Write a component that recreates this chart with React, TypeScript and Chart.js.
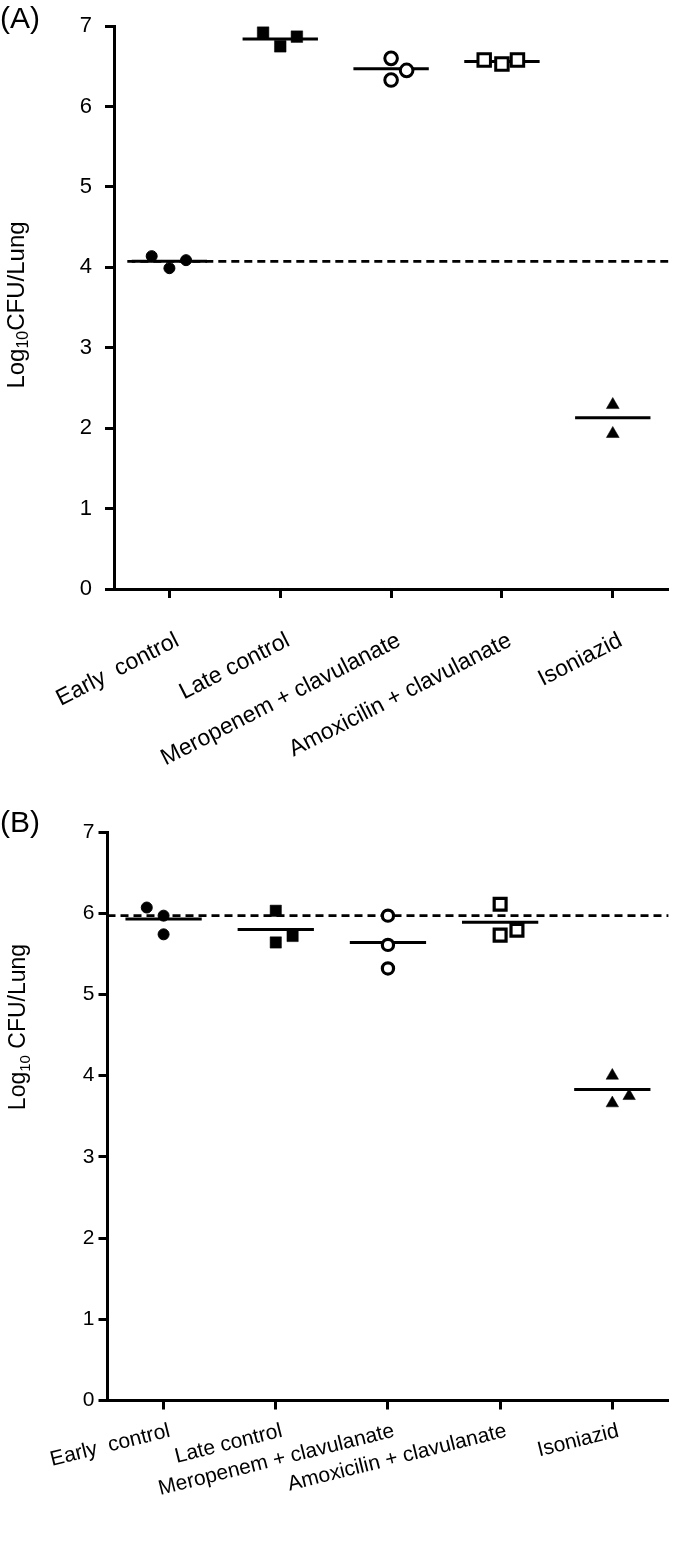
import React, { useEffect, useRef } from 'react';
import { Chart, registerables } from 'chart.js';

Chart.register(...registerables);

// ---------- data ----------
const categories = ['Early  control', 'Late control', 'Meropenem + clavulanate', 'Amoxicilin + clavulanate', 'Isoniazid'];
const yTickValues = [0, 1, 2, 3, 4, 5, 6, 7];

// Panel A (values, and small horizontal jitter offsets in category units)
const aEarly = [4.14, 3.99, 4.09];
const aEarlyJit = [-0.16, 0, 0.15];
const aLate = [6.92, 6.75, 6.87];
const aLateJit = [-0.155, 0, 0.15];
const aMero = [6.6, 6.33, 6.45];
const aMeroJit = [0, 0, 0.14];
const aAmox = [6.58, 6.53, 6.58];
const aAmoxJit = [-0.16, 0, 0.14];
const aIso = [2.29, 1.93];
const aIsoJit = [0, 0];
const aMeans = [4.075, 6.84, 6.47, 6.56, 2.13];
const aReference = 4.075;
const aReferenceFrom = -0.38;

// Panel B
const bEarly = [6.07, 5.97, 5.74];
const bEarlyJit = [-0.15, 0, 0];
const bLate = [6.03, 5.64, 5.72];
const bLateJit = [0, 0, 0.15];
const bMero = [5.97, 5.61, 5.32];
const bMeroJit = [0, 0, 0];
const bAmox = [6.11, 5.73, 5.79];
const bAmoxJit = [0, 0, 0.15];
const bIso = [4.0, 3.75, 3.66];
const bIsoJit = [0, 0.15, 0];
const bMeans = [5.93, 5.8, 5.64, 5.89, 3.83];
const bReference = 5.97;
const bReferenceFrom = -0.5;

// ---------- styling ----------
const FONT = "'Liberation Sans', Arial, Helvetica, sans-serif";
const W = 680;
const MEAN_HALF = 0.34;

type MarkerStyle = { pointStyle: string; radius: number; bg: string; bw: number };
const markerStylesA: MarkerStyle[] = [
  { pointStyle: 'circle', radius: 5.5, bg: '#000', bw: 1 },
  { pointStyle: 'rect', radius: 8.2, bg: '#000', bw: 0.5 },
  { pointStyle: 'circle', radius: 6.3, bg: '#fff', bw: 3 },
  { pointStyle: 'rect', radius: 8.8, bg: '#fff', bw: 3 },
  { pointStyle: 'triangle', radius: 7.4, bg: '#000', bw: 0.5 },
];
const markerStylesB: MarkerStyle[] = [
  { pointStyle: 'circle', radius: 5.5, bg: '#000', bw: 1 },
  { pointStyle: 'rect', radius: 8, bg: '#000', bw: 0.5 },
  { pointStyle: 'circle', radius: 5.6, bg: '#fff', bw: 3.2 },
  { pointStyle: 'rect', radius: 8.4, bg: '#fff', bw: 3.2 },
  { pointStyle: 'triangle', radius: 7.2, bg: '#000', bw: 0.5 },
];

interface PanelSpec {
  label: string;
  groups: { y: number[]; j: number[] }[];
  means: number[];
  reference: number;
  referenceFrom: number;
  title: string[];
  height: number;
  area: { left: number; top: number; bottom: number; right: number };
  xMax: number;
  yTickFont: number;
  yTickPad: number;
  xTickFont: number;
  xRot: number;
  xTickPad: number;
  xLabelOffset: number;
  titleX: number;
  titleY: number;
  titleFont: number;
  labelX: number;
  labelY: number;
  labelFont: number;
  markers: MarkerStyle[];
}

const decoPlugin = {
  id: 'panelDeco',
  afterDraw(chart: any, _args: any, opts: any) {
    const ctx = chart.ctx as CanvasRenderingContext2D;
    ctx.save();
    ctx.fillStyle = '#000';
    ctx.textBaseline = 'alphabetic';
    ctx.textAlign = 'left';
    ctx.font = `${opts.labelFont}px ${FONT}`;
    ctx.fillText(opts.label, opts.labelX, opts.labelY);

    const main = `${opts.titleFont}px ${FONT}`;
    const sub = `${Math.round(opts.titleFont * 0.66)}px ${FONT}`;
    const [p1, p2, p3] = opts.title as string[];
    ctx.font = main;
    const w1 = ctx.measureText(p1).width;
    const w3 = ctx.measureText(p3).width;
    ctx.font = sub;
    const w2 = ctx.measureText(p2).width;
    const total = w1 + w2 + w3;
    ctx.translate(opts.titleX, opts.titleY);
    ctx.rotate(-Math.PI / 2);
    let x = -total / 2;
    const base = opts.titleFont * 0.36;
    ctx.font = main;
    ctx.fillText(p1, x, base);
    x += w1;
    ctx.font = sub;
    ctx.fillText(p2, x, base + opts.titleFont * 0.2);
    x += w2;
    ctx.font = main;
    ctx.fillText(p3, x, base);
    ctx.restore();
  },
};

function buildConfig(s: PanelSpec): any {
  const pointSets = s.groups.map((g, i) => {
    const m = s.markers[i];
    return {
      type: 'scatter',
      data: g.y.map((y, k) => ({ x: i + g.j[k], y })),
      pointStyle: m.pointStyle,
      pointRadius: m.radius,
      pointBackgroundColor: m.bg,
      pointBorderColor: '#000',
      pointBorderWidth: m.bw,
      showLine: false,
      clip: false,
    };
  });
  const meanSets = s.means.map((mv, i) => ({
    type: 'scatter',
    data: [
      { x: i - MEAN_HALF, y: mv },
      { x: i + MEAN_HALF, y: mv },
    ],
    showLine: true,
    borderColor: '#000',
    borderWidth: 3,
    pointRadius: 0,
    clip: false,
  }));
  const refSet = {
    type: 'scatter',
    data: [
      { x: s.referenceFrom, y: s.reference },
      { x: s.xMax, y: s.reference },
    ],
    showLine: true,
    borderColor: '#000',
    borderWidth: 2.8,
    borderDash: [8, 5],
    pointRadius: 0,
    clip: false,
  };
  const tickFontY = { family: FONT, size: s.yTickFont };
  const tickFontX = { family: FONT, size: s.xTickFont };
  return {
    type: 'scatter',
    data: { datasets: [...pointSets, ...meanSets, refSet] },
    options: {
      responsive: false,
      animation: false,
      events: [],
      layout: { padding: { left: 0, top: s.area.top, right: W - s.area.right, bottom: 0 } },
      plugins: {
        legend: { display: false },
        tooltip: { enabled: false },
        panelDeco: {
          label: s.label,
          labelX: s.labelX,
          labelY: s.labelY,
          labelFont: s.labelFont,
          title: s.title,
          titleX: s.titleX,
          titleY: s.titleY,
          titleFont: s.titleFont,
        },
      },
      scales: {
        x: {
          type: 'linear',
          min: -0.5,
          max: s.xMax,
          afterBuildTicks: (sc: any) => {
            sc.ticks = categories.map((_, i) => ({ value: i }));
          },
          afterFit: (sc: any) => {
            sc.height = s.height - s.area.bottom;
          },
          ticks: {
            autoSkip: false,
            minRotation: s.xRot,
            maxRotation: s.xRot,
            padding: s.xTickPad,
            labelOffset: s.xLabelOffset,
            color: '#000',
            font: tickFontX,
            callback: (v: number) => categories[v] ?? '',
          },
          grid: { drawOnChartArea: false, drawTicks: true, tickLength: 9, tickWidth: 3, tickColor: '#000', color: '#000' },
          border: { display: true, color: '#000', width: 3 },
        },
        y: {
          type: 'linear',
          min: 0,
          max: 7,
          afterBuildTicks: (sc: any) => {
            sc.ticks = yTickValues.map((v) => ({ value: v }));
          },
          afterFit: (sc: any) => {
            sc.width = s.area.left;
          },
          ticks: { padding: s.yTickPad, color: '#000', font: tickFontY },
          grid: { drawOnChartArea: false, drawTicks: true, tickLength: 9, tickWidth: 3, tickColor: '#000', color: '#000' },
          border: { display: true, color: '#000', width: 3 },
        },
      },
    },
    plugins: [decoPlugin],
  };
}

const panelA: PanelSpec = {
  label: '(A)',
  groups: [
    { y: aEarly, j: aEarlyJit },
    { y: aLate, j: aLateJit },
    { y: aMero, j: aMeroJit },
    { y: aAmox, j: aAmoxJit },
    { y: aIso, j: aIsoJit },
  ],
  means: aMeans,
  reference: aReference,
  referenceFrom: aReferenceFrom,
  title: ['Log', '10', 'CFU/Lung'],
  height: 772,
  area: { left: 114, top: 20, bottom: 589, right: 678 },
  xMax: 4.5,
  yTickFont: 22,
  yTickPad: 13,
  xTickFont: 23,
  xRot: 27,
  xTickPad: 29,
  xLabelOffset: 8,
  titleX: 15,
  titleY: 305,
  titleFont: 24,
  labelX: 0,
  labelY: 28,
  labelFont: 30,
  markers: markerStylesA,
};

const panelB: PanelSpec = {
  label: '(B)',
  groups: [
    { y: bEarly, j: bEarlyJit },
    { y: bLate, j: bLateJit },
    { y: bMero, j: bMeroJit },
    { y: bAmox, j: bAmoxJit },
    { y: bIso, j: bIsoJit },
  ],
  means: bMeans,
  reference: bReference,
  referenceFrom: bReferenceFrom,
  title: ['Log', '10', ' CFU/Lung'],
  height: 773,
  area: { left: 107.5, top: 60, bottom: 628.5, right: 673 },
  xMax: 4.5,
  yTickFont: 21,
  yTickPad: 4,
  xTickFont: 21,
  xRot: 14,
  xTickPad: 9,
  xLabelOffset: 6,
  titleX: 17,
  titleY: 255,
  titleFont: 23,
  labelX: 0,
  labelY: 60,
  labelFont: 30,
  markers: markerStylesB,
};

function Panel({ spec, top }: { spec: PanelSpec; top: number }) {
  const ref = useRef<HTMLCanvasElement | null>(null);
  useEffect(() => {
    if (!ref.current) return;
    const chart = new Chart(ref.current, buildConfig(spec));
    return () => chart.destroy();
  }, [spec]);
  return (
    <canvas
      ref={ref}
      width={W}
      height={spec.height}
      style={{ position: 'absolute', left: 0, top, width: W, height: spec.height }}
    />
  );
}

export default function App() {
  return (
    <div style={{ position: 'absolute', left: 0, top: 0, width: W, height: 1545, background: '#fff' }}>
      <Panel spec={panelA} top={0} />
      <Panel spec={panelB} top={772} />
    </div>
  );
}
